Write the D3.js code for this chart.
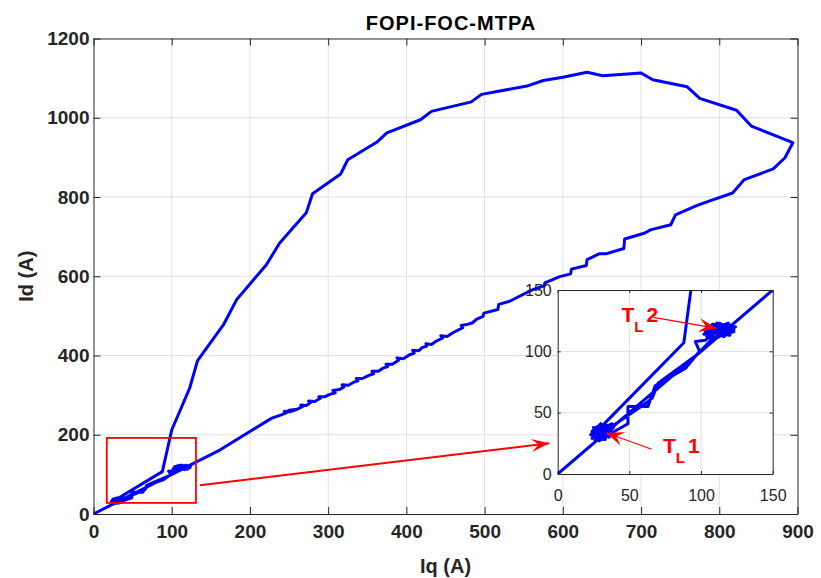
<!DOCTYPE html>
<html><head><meta charset="utf-8">
<script src="https://cdn.jsdelivr.net/npm/d3@7"></script>
<style>
html,body{margin:0;padding:0;background:#fff;}
svg{display:block;font-family:"Liberation Sans",Arial,sans-serif;}
</style></head>
<body><svg id="chart" width="821" height="578"></svg>
<script>
// ---------- DATA ----------
const title = "FOPI-FOC-MTPA";
const xLabel = "Iq (A)";
const yLabel = "Id (A)";
const mainXTicks = [0,100,200,300,400,500,600,700,800,900];
const mainYTicks = [0,200,400,600,800,1000,1200];
const insetTicks = [0,50,100,150];

// start-up ramp [Iq, Id]
const rampPath = [[0,0],[162,162],[228,242]];
// lower (MTPA) branch, noisy
const lowerBranch = [[240,250],[247,256],[244,259],[252,258],[250,262],[258,264],[255,260],[262,266],[268,272],[265,275],[272,274],[278,282],[275,285],[283,284],[290,292],[288,296],[296,296],[302,302],[309,306],[306,312],[314,314],[320,320],[318,326],[326,325],[332,332],[338,336],[336,342],[344,342],[352,350],[358,354],[356,360],[364,360],[370,368],[376,372],[374,378],[382,378],[390,388],[388,394],[396,392],[404,402],[410,406],[408,413],[416,412],[420,420],[426,424],[425,430],[432,428],[438,436],[446,444],[444,450],[452,448],[460,458],[466,464],[472,470],[470,476],[477,478],[484,482],[490,492],[498,499],[499,507],[517,516],[518,529],[532,537],[560,565],[576,576],[577,583],[596,599],[610,606],[611,618],[630,627],[631,642],[647,657],[656,657],[678,670],[679,694],[705,709],[712,717],[738,730],[744,755],[771,778],[786,789],[817,810],[832,844],[869,871],[884,899],[894,937]];
// upper arc returning
const upperArc = [[841,979],[822,1019],[775,1049],[759,1078],[715,1096],[700,1113],[651,1106],[631,1115],[600,1102],[575,1094],[554,1080],[496,1059],[483,1040],[432,1016],[418,995],[375,962],[362,938],[325,894],[316,858],[280,808],[272,760],[238,684],[221,629],[183,541],[166,477],[133,387],[123,318],[100,212],[88,107],[30,38]];
// steady state at load TL1
const tl1Cluster = [[28,33],[33,37],[25,31],[31,39],[36,34],[27,29],[34,40],[24,35],[32,30],[38,37],[29,36],[26,27],[35,33],[30,41],[23,32],[33,28],[37,39],[28,35],[31,31],[25,38],[36,36],[29,30],[32,35],[38,41],[26,34],[34,31],[30,37],[24,29],[35,38],[27,36],[33,33],[29,27],[37,35],[25,36],[31,34],[36,30],[28,39],[32,38],[26,32],[34,36],[30,32],[39,38],[27,31],[35,36],[29,39],[31,28],[24,33],[33,40],[37,33]];
// transition TL1 -> TL2
const strandA = [[49,41],[49,55],[63,55],[68,72],[89,86],[99,100],[96,108],[103,109]];
// steady state at load TL2
const tl2Cluster = [[108,114],[115,119],[104,112],[118,121],[111,123],[121,115],[106,118],[116,112],[113,120],[123,118],[109,110],[119,123],[103,116],[114,115],[120,120],[107,121],[117,113],[111,117],[122,122],[105,113],[115,118],[110,119],[118,116],[104,120],[121,121],[113,113],[108,122],[116,121],[102,114],[119,118],[111,111],[124,120],[107,116],[114,122],[120,113],[105,117],[117,120],[112,115],[123,116],[109,119],[115,114],[110,121],[119,115],[106,115],[113,123],[106,108]];
// second transition strand
const strandB = [[97,97],[70,74],[66,62],[62,58],[38,39]];

const fullPath = [].concat(rampPath, lowerBranch, upperArc, tl1Cluster, strandA, tl2Cluster, strandB);

// zoom box region (data units) and annotations
const zoomBox = {x0:17, x1:131, y0:28, y1:192};
const annTL1 = {sub:"L", num:"1"};
const annTL2 = {sub:"L", num:"2"};

// ---------- DRAW ----------
const svg = d3.select("#chart");
const axisCol = "#262626", gridCol = "#e0e0e0";
const blue = "#0000ff", red = "#ff0000";
const fmt = d3.format("d");

const x = d3.scaleLinear().domain([0,900]).range([93.5,797.5]);
const y = d3.scaleLinear().domain([0,1200]).range([514,38.5]);

// grid
const g = svg.append("g");
g.append("g").selectAll("line").data(mainXTicks.slice(1,-1)).join("line")
  .attr("x1",d=>x(d)).attr("x2",d=>x(d)).attr("y1",y(0)).attr("y2",y(1200))
  .attr("stroke",gridCol).attr("stroke-width",1);
g.append("g").selectAll("line").data(mainYTicks.slice(1,-1)).join("line")
  .attr("y1",d=>y(d)).attr("y2",d=>y(d)).attr("x1",x(0)).attr("x2",x(900))
  .attr("stroke",gridCol).attr("stroke-width",1);

const line = d3.line().x(d=>x(d[0])).y(d=>y(d[1]));
g.append("path").attr("d",line(fullPath)).attr("fill","none")
  .attr("stroke",blue).attr("stroke-width",3).attr("stroke-linejoin","round");

// axes
function styleAxis(sel, fs, fw){
  sel.select(".domain").attr("stroke",axisCol).attr("stroke-width",1);
  sel.selectAll(".tick line").attr("stroke",axisCol).attr("stroke-width",1);
  sel.selectAll("text").attr("fill",axisCol).style("font-size",fs+"px").style("font-weight",fw)
     .style("font-family","'Liberation Sans',Arial,sans-serif");
}
const ax = svg.append("g").attr("transform",`translate(0,${y(0)})`)
  .call(d3.axisBottom(x).tickValues(mainXTicks).tickFormat(fmt).tickSizeInner(-7).tickSizeOuter(0).tickPadding(11));
styleAxis(ax,19,"bold");
const axT = svg.append("g").attr("transform",`translate(0,${y(1200)})`)
  .call(d3.axisTop(x).tickValues(mainXTicks).tickSizeInner(-7).tickSizeOuter(0).tickFormat(""));
styleAxis(axT,19,"bold");
const ay = svg.append("g").attr("transform",`translate(${x(0)},0)`)
  .call(d3.axisLeft(y).tickValues(mainYTicks).tickFormat(fmt).tickSizeInner(-7).tickSizeOuter(0).tickPadding(4));
styleAxis(ay,19,"bold");
const ayR = svg.append("g").attr("transform",`translate(${x(900)},0)`)
  .call(d3.axisRight(y).tickValues(mainYTicks).tickSizeInner(-7).tickSizeOuter(0).tickFormat(""));
styleAxis(ayR,19,"bold");

// title & labels
svg.append("text").attr("x",451).attr("y",30).attr("text-anchor","middle")
  .style("font-size","20px").style("font-weight","bold").style("letter-spacing","1px").attr("fill","#000").text(title);
svg.append("text").attr("x",(x(0)+x(900))/2).attr("y",573).attr("text-anchor","middle")
  .style("font-size","20px").style("font-weight","bold").attr("fill",axisCol).text(xLabel);
svg.append("text").attr("transform",`translate(33,${(y(0)+y(1200))/2}) rotate(-90)`).attr("text-anchor","middle")
  .style("font-size","20px").style("font-weight","bold").attr("fill",axisCol).text(yLabel);

// zoom rectangle
svg.append("rect").attr("x",x(zoomBox.x0)).attr("y",y(zoomBox.y1))
  .attr("width",x(zoomBox.x1)-x(zoomBox.x0)).attr("height",y(zoomBox.y0)-y(zoomBox.y1))
  .attr("fill","none").attr("stroke",red).attr("stroke-width",1.8);

// ---------- INSET ----------
const xi = d3.scaleLinear().domain([0,150]).range([557.7,772.7]);
const yi = d3.scaleLinear().domain([0,150]).range([474,290]);
const ig = svg.append("g");
ig.append("rect").attr("x",xi(0)).attr("y",yi(150)).attr("width",xi(150)-xi(0)).attr("height",yi(0)-yi(150)).attr("fill","#fff");
ig.append("g").selectAll("line").data(insetTicks.slice(1,-1)).join("line")
  .attr("x1",d=>xi(d)).attr("x2",d=>xi(d)).attr("y1",yi(0)).attr("y2",yi(150)).attr("stroke",gridCol);
ig.append("g").selectAll("line").data(insetTicks.slice(1,-1)).join("line")
  .attr("y1",d=>yi(d)).attr("y2",d=>yi(d)).attr("x1",xi(0)).attr("x2",xi(150)).attr("stroke",gridCol);
svg.append("defs").append("clipPath").attr("id","insetClip").append("rect")
  .attr("x",xi(0)).attr("y",yi(150)).attr("width",xi(150)-xi(0)).attr("height",yi(0)-yi(150));
const lineI = d3.line().x(d=>xi(d[0])).y(d=>yi(d[1]));
ig.append("path").attr("d",lineI(fullPath)).attr("fill","none").attr("clip-path","url(#insetClip)")
  .attr("stroke",blue).attr("stroke-width",3).attr("stroke-linejoin","round");
const ibx = ig.append("g").attr("transform",`translate(0,${yi(0)})`)
  .call(d3.axisBottom(xi).tickValues(insetTicks).tickSizeInner(-3).tickSizeOuter(0).tickPadding(16));
styleAxis(ibx,16,"normal");
const ibt = ig.append("g").attr("transform",`translate(0,${yi(150)})`)
  .call(d3.axisTop(xi).tickValues(insetTicks).tickSizeInner(-3).tickSizeOuter(0).tickFormat(""));
styleAxis(ibt,16,"normal");
const ibl = ig.append("g").attr("transform",`translate(${xi(0)},0)`)
  .call(d3.axisLeft(yi).tickValues(insetTicks).tickSizeInner(-3).tickSizeOuter(0).tickPadding(6));
styleAxis(ibl,16,"normal");
const ibr = ig.append("g").attr("transform",`translate(${xi(150)},0)`)
  .call(d3.axisRight(yi).tickValues(insetTicks).tickSizeInner(-3).tickSizeOuter(0).tickFormat(""));
styleAxis(ibr,16,"normal");

// ---------- ARROWS ----------
function arrow(x1,y1,x2,y2,w,L,Wd){
  svg.append("line").attr("x1",x1).attr("y1",y1).attr("x2",x2).attr("y2",y2)
    .attr("stroke",red).attr("stroke-width",w);
  const a = Math.atan2(y2-y1,x2-x1)*180/Math.PI;
  svg.append("path").attr("transform",`translate(${x2},${y2}) rotate(${a})`)
    .attr("d",`M0,0 L${-L},${-Wd/2} L${-L*0.6},0 L${-L},${Wd/2} Z`).attr("fill",red);
}
arrow(200,485.3,549.3,443.3,2,18,13);
arrow(651.7,449.3,606,432.7,1.2,18,14);
arrow(653.3,317.3,716.7,328.3,1.2,18,14);

// ---------- TEXT ANNOTATIONS ----------
function tl(xp,yp,a){
  const t = svg.append("text").attr("x",xp).attr("y",yp).attr("fill",red)
    .style("font-weight","bold").style("font-size","21px");
  t.append("tspan").text("T");
  t.append("tspan").attr("dy",10).style("font-size","15px").text(a.sub);
  t.append("tspan").attr("dy",-10).attr("dx",3).text(a.num);
}
tl(621.5,322,annTL2);
tl(663,453,annTL1);
</script></body></html>
